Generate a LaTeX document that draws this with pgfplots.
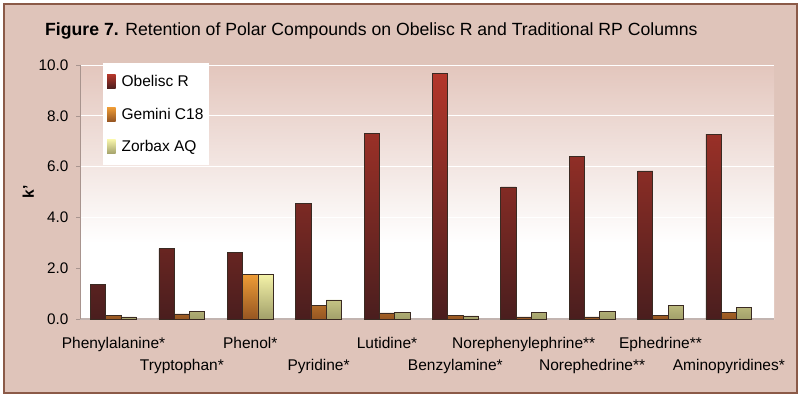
\documentclass[border=0pt]{standalone}
\usepackage{fontspec}
\setmainfont{Liberation Sans}
\usepackage{pgfplots}
\pgfplotsset{compat=1.18}
\definecolor{framec}{HTML}{8B5A48}
\definecolor{outerbg}{HTML}{DFC4BA}
\definecolor{pinktop}{HTML}{E3C6BD}
\definecolor{obtop}{HTML}{B3362A}
\definecolor{obbot}{HTML}{4A1E1E}
\definecolor{getop}{HTML}{EE9C36}
\definecolor{gebot}{HTML}{965622}
\definecolor{zotop}{HTML}{F4F2A8}
\definecolor{zobot}{HTML}{A2A06A}
\definecolor{baredge}{HTML}{3A2A22}
\definecolor{axisc}{HTML}{A8948E}
\pgfdeclareverticalshading{plotbg}{100bp}{color(0bp)=(white); color(25bp)=(white); color(40bp)=(white); color(75bp)=(pinktop); color(100bp)=(pinktop)}
\begin{document}
\begin{tikzpicture}
\fill[white] (0pt,0pt) rectangle (800pt,397pt);
\draw[framec, line width=2pt, fill=outerbg] (4pt,4pt) rectangle (797pt,393pt);
\node[anchor=west, font=\fontsize{17.65}{20}\selectfont, inner sep=0pt] at (45pt,366pt) {\textbf{Figure 7.} Retention of Polar Compounds on Obelisc R and Traditional RP Columns};
\begin{axis}[
  at={(80pt,78pt)}, anchor=south west,
  scale only axis, width=694pt, height=254pt,
  xmin=-0.49, xmax=9.66, ymin=0, ymax=10,
  axis background/.style={shading=plotbg},
  axis x line=bottom, axis y line=left,
  axis line style={axisc, line width=0.8pt, -},
  x axis line style={line width=1.6pt, draw=axisc!70!white},
  xtick={0,...,9},
  xticklabels={Phenylalanine*, {\vphantom{X}\\Tryptophan*}, Phenol*, {\vphantom{X}\\Pyridine*}, Lutidine*, {\vphantom{X}\\Benzylamine*}, Norephenylephrine**, {\vphantom{X}\\Norephedrine**}, Ephedrine**, {\vphantom{X}\\Aminopyridines*}},
  xticklabel style={align=center, anchor=north, yshift=-11pt, font=\fontsize{15.5}{22}\selectfont},
  x tick style={draw=none},
  ytick={0,2,4,6,8,10},
  y tick style={axisc, line width=0.6pt},
  major tick length=4pt,
  tick align=outside,
  yticklabel style={font=\fontsize{15.3}{18}\selectfont, xshift=-4pt},
  /pgf/number format/assume math mode=true,
  /pgf/number format/.cd, fixed, fixed zerofill, precision=1, /pgfplots/.cd,
  ymajorgrids, major grid style={white, line width=0.7pt},
  ylabel={\textbf{k'}},
  ylabel style={font=\fontsize{15.5}{18}\selectfont, yshift=-2pt},
  legend style={at={(0.033,1.008)}, anchor=north west, draw=none, fill=white,
    font=\fontsize{15.5}{18}\selectfont, row sep=16pt, inner xsep=4pt, inner ysep=10pt,
    nodes={inner sep=2pt}},
  legend cell align=left,
  legend image code/.code={\draw[#1, draw=none] (0pt,-7pt) rectangle (8.5pt,7pt); \path[draw=none] (0pt,0pt) -- (12.5pt,0pt);},
  bar width=0.224,
]
\addplot[ybar, bar shift=-0.224, draw=baredge, line width=0.8pt, top color=obtop, bottom color=obbot]
  coordinates {(0,1.37) (1,2.77) (2,2.63) (3,4.55) (4,7.32) (5,9.65) (6,5.20) (7,6.39) (8,5.83) (9,7.28)};
\addlegendentry{Obelisc R}
\addplot[ybar, bar shift=0, draw=baredge, line width=0.8pt, top color=getop, bottom color=gebot]
  coordinates {(0,0.13) (1,0.20) (2,1.76) (3,0.54) (4,0.24) (5,0.13) (6,0.08) (7,0.08) (8,0.13) (9,0.25)};
\addlegendentry{Gemini C18}
\addplot[ybar, bar shift=0.224, draw=baredge, line width=0.8pt, top color=zotop, bottom color=zobot]
  coordinates {(0,0.08) (1,0.28) (2,1.76) (3,0.75) (4,0.27) (5,0.12) (6,0.25) (7,0.28) (8,0.52) (9,0.46)};
\addlegendentry{Zorbax AQ}
\end{axis}
\end{tikzpicture}
\end{document}
